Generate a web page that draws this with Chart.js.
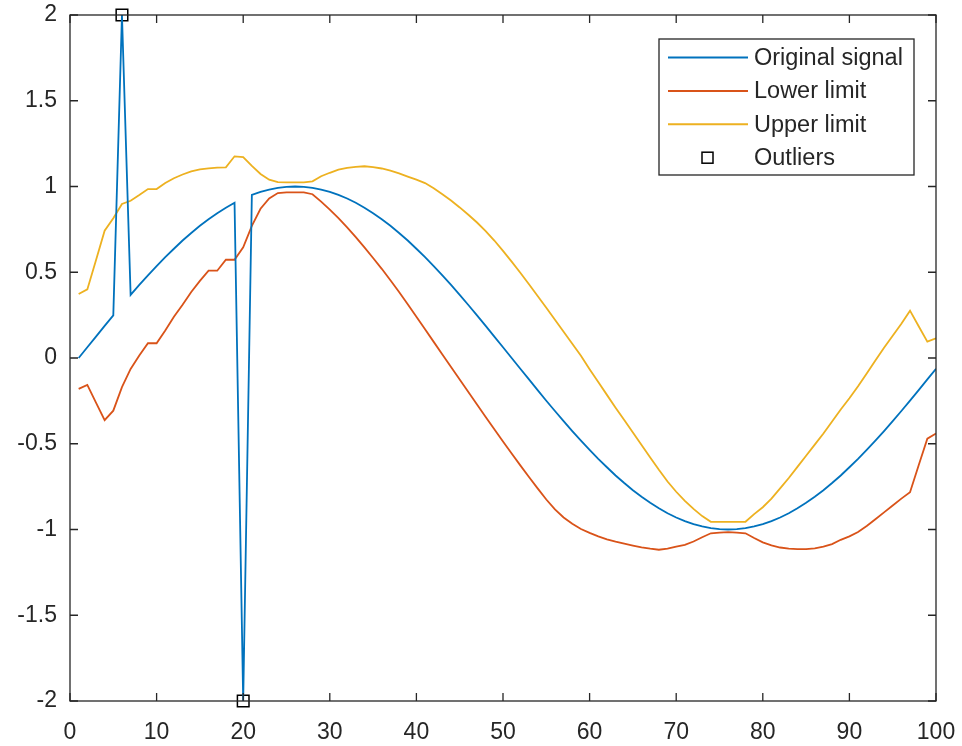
<!DOCTYPE html>
<html>
<head>
<meta charset="utf-8">
<title>Outlier detection</title>
<script src="https://cdn.jsdelivr.net/npm/chart.js@4.4.1/dist/chart.umd.min.js"></script>
<style>
  body { margin: 0; background: #fff; }
  canvas { display: block; }
</style>
</head>
<body>
<canvas id="myChart" width="962" height="746"></canvas>
<script>
//데이터 ================================================
const xValues = [
  1, 2, 3, 4, 5, 6, 7, 8, 9, 10,
  11, 12, 13, 14, 15, 16, 17, 18, 19, 20,
  21, 22, 23, 24, 25, 26, 27, 28, 29, 30,
  31, 32, 33, 34, 35, 36, 37, 38, 39, 40,
  41, 42, 43, 44, 45, 46, 47, 48, 49, 50,
  51, 52, 53, 54, 55, 56, 57, 58, 59, 60,
  61, 62, 63, 64, 65, 66, 67, 68, 69, 70,
  71, 72, 73, 74, 75, 76, 77, 78, 79, 80,
  81, 82, 83, 84, 85, 86, 87, 88, 89, 90,
  91, 92, 93, 94, 95, 96, 97, 98, 99, 100,
];

const signal = [
  0, 0.063, 0.125, 0.187, 0.249, 2, 0.368, 0.426, 0.482, 0.536,
  0.588, 0.637, 0.685, 0.729, 0.771, 0.809, 0.844, 0.876, 0.905, -2,
  0.951, 0.969, 0.982, 0.992, 0.998, 1.0, 0.998, 0.992, 0.982, 0.969,
  0.951, 0.93, 0.905, 0.876, 0.844, 0.809, 0.771, 0.729, 0.685, 0.637,
  0.588, 0.536, 0.482, 0.426, 0.368, 0.309, 0.249, 0.187, 0.125, 0.063,
  0, -0.063, -0.125, -0.187, -0.249, -0.309, -0.368, -0.426, -0.482, -0.536,
  -0.588, -0.637, -0.685, -0.729, -0.771, -0.809, -0.844, -0.876, -0.905, -0.93,
  -0.951, -0.969, -0.982, -0.992, -0.998, -1.0, -0.998, -0.992, -0.982, -0.969,
  -0.951, -0.93, -0.905, -0.876, -0.844, -0.809, -0.771, -0.729, -0.685, -0.637,
  -0.588, -0.536, -0.482, -0.426, -0.368, -0.309, -0.249, -0.187, -0.125, -0.063,
];

const lowerLimit = [
  -0.18, -0.157, -0.26, -0.362, -0.307, -0.17, -0.064, 0.015, 0.086, 0.086,
  0.16, 0.24, 0.31, 0.385, 0.45, 0.509, 0.509, 0.573, 0.573, 0.645,
  0.77, 0.87, 0.93, 0.962, 0.966, 0.966, 0.966, 0.955, 0.912, 0.865,
  0.815, 0.762, 0.705, 0.645, 0.583, 0.52, 0.453, 0.385, 0.313, 0.24,
  0.167, 0.094, 0.021, -0.052, -0.125, -0.198, -0.271, -0.344, -0.416, -0.487,
  -0.557, -0.626, -0.694, -0.76, -0.825, -0.883, -0.93, -0.967, -0.997, -1.02,
  -1.04, -1.057, -1.071, -1.083, -1.094, -1.104, -1.112, -1.118, -1.112, -1.1,
  -1.09, -1.07, -1.045, -1.022, -1.018, -1.015, -1.018, -1.022, -1.05, -1.075,
  -1.093, -1.105, -1.112, -1.115, -1.115, -1.11, -1.1, -1.085, -1.06, -1.04,
  -1.015, -0.98, -0.94, -0.9, -0.86, -0.82, -0.783, -0.625, -0.47, -0.44,
];

const upperLimit = [
  0.373, 0.4, 0.57, 0.742, 0.815, 0.898, 0.917, 0.95, 0.985, 0.985,
  1.02, 1.048, 1.07, 1.088, 1.1, 1.106, 1.11, 1.112, 1.176, 1.172,
  1.12, 1.073, 1.04, 1.025, 1.024, 1.024, 1.024, 1.03, 1.06, 1.08,
  1.098, 1.108, 1.115, 1.118, 1.113, 1.105, 1.092, 1.077, 1.058, 1.04,
  1.02, 0.99, 0.955, 0.918, 0.878, 0.835, 0.79, 0.74, 0.685, 0.625,
  0.562, 0.497, 0.43, 0.362, 0.293, 0.223, 0.153, 0.083, 0.013, -0.065,
  -0.14, -0.215, -0.29, -0.362, -0.435, -0.507, -0.58, -0.652, -0.72, -0.78,
  -0.833, -0.88, -0.922, -0.955, -0.955, -0.955, -0.955, -0.955, -0.91, -0.87,
  -0.82, -0.76, -0.7, -0.635, -0.57, -0.505, -0.44, -0.37, -0.3, -0.235,
  -0.165, -0.09, -0.015, 0.06, 0.13, 0.2, 0.276, 0.185, 0.095, 0.115,
];

const outlierX = [6, 20];
const outlierY = [2, -2];

const xTickValues = [0, 10, 20, 30, 40, 50, 60, 70, 80, 90, 100];
const yTickValues = [-2, -1.5, -1, -0.5, 0, 0.5, 1, 1.5, 2];

const seriesNames = ["Original signal", "Lower limit", "Upper limit", "Outliers"];

//스타일 ====================================
const AXIS_COLOR = "#262626";
const FONT = "'Liberation Sans', Arial, sans-serif";

function toPoints(xs, ys) {
  return xs.map((x, i) => ({ x: x, y: ys[i] }));
}

//박스 + 안쪽 눈금 (MATLAB 스타일)
const axisBox = {
  id: "axisBox",
  afterDraw(chart) {
    const { ctx, chartArea: a, scales } = chart;
    const tl = 8;
    ctx.save();
    ctx.strokeStyle = AXIS_COLOR;
    ctx.lineWidth = 1.3;
    ctx.strokeRect(a.left, a.top, a.right - a.left, a.bottom - a.top);
    ctx.beginPath();
    xTickValues.forEach((v) => {
      const px = scales.x.getPixelForValue(v);
      ctx.moveTo(px, a.bottom);
      ctx.lineTo(px, a.bottom - tl);
      ctx.moveTo(px, a.top);
      ctx.lineTo(px, a.top + tl);
    });
    yTickValues.forEach((v) => {
      const py = scales.y.getPixelForValue(v);
      ctx.moveTo(a.left, py);
      ctx.lineTo(a.left + tl, py);
      ctx.moveTo(a.right, py);
      ctx.lineTo(a.right - tl, py);
    });
    ctx.stroke();
    ctx.restore();
  },
};

//범례 (오른쪽 위, 테두리 있음)
const boxLegend = {
  id: "boxLegend",
  afterDraw(chart) {
    const { ctx, chartArea: a } = chart;
    const w = 255;
    const h = 136;
    const left = a.right - 22 - w;
    const top = a.top + 24;
    const rowH = 33.4;
    ctx.save();
    ctx.fillStyle = "#fff";
    ctx.fillRect(left, top, w, h);
    ctx.strokeStyle = AXIS_COLOR;
    ctx.lineWidth = 1.3;
    ctx.strokeRect(left, top, w, h);
    ctx.font = "23.5px " + FONT;
    ctx.textBaseline = "middle";
    chart.data.datasets.forEach((ds, i) => {
      const y = top + 18.5 + i * rowH;
      if (ds.showLine === false) {
        ctx.strokeStyle = "#000";
        ctx.lineWidth = 1.5;
        ctx.strokeRect(left + 43, y - 5.5, 11, 11);
      } else {
        ctx.strokeStyle = ds.borderColor;
        ctx.lineWidth = 2;
        ctx.beginPath();
        ctx.moveTo(left + 9, y);
        ctx.lineTo(left + 89, y);
        ctx.stroke();
      }
      ctx.fillStyle = AXIS_COLOR;
      ctx.fillText(ds.label, left + 95, y + 1);
    });
    ctx.restore();
  },
};

//차트 생성 ====================================
const chartArea = document.getElementById("myChart").getContext("2d");
const mychart = new Chart(chartArea, {
  type: "line",
  data: {
    datasets: [
      {
        label: seriesNames[0],
        data: toPoints(xValues, signal),
        borderColor: "#0072BD",
        borderWidth: 1.8,
        pointRadius: 0,
        tension: 0,
      },
      {
        label: seriesNames[1],
        data: toPoints(xValues, lowerLimit),
        borderColor: "#D95319",
        borderWidth: 1.8,
        pointRadius: 0,
        tension: 0,
      },
      {
        label: seriesNames[2],
        data: toPoints(xValues, upperLimit),
        borderColor: "#EDB120",
        borderWidth: 1.8,
        pointRadius: 0,
        tension: 0,
      },
      {
        label: seriesNames[3],
        data: toPoints(outlierX, outlierY),
        showLine: false,
        pointStyle: "rect",
        pointRadius: 8.2,
        pointBorderWidth: 1.5,
        pointBorderColor: "#000",
        pointBackgroundColor: "rgba(0,0,0,0)",
        clip: false,
      },
    ],
  },
  options: {
    responsive: false,
    animation: false,
    layout: {
      padding: { top: 15, right: 26, left: 0, bottom: 0 },
    },
    plugins: {
      legend: { display: false },
      tooltip: { enabled: false },
    },
    scales: {
      x: {
        type: "linear",
        min: 0,
        max: 100,
        afterBuildTicks: (scale) => {
          scale.ticks = xTickValues.map((v) => ({ value: v }));
        },
        afterFit: (scale) => {
          scale.height = 45;
          scale.paddingLeft = 0;
          scale.paddingRight = 0;
        },
        grid: { display: false, drawTicks: false },
        border: { display: false },
        ticks: {
          color: AXIS_COLOR,
          font: { family: FONT, size: 23 },
          padding: 18,
          maxRotation: 0,
          callback: (v) => String(v),
        },
      },
      y: {
        type: "linear",
        min: -2,
        max: 2,
        afterBuildTicks: (scale) => {
          scale.ticks = yTickValues.map((v) => ({ value: v }));
        },
        afterFit: (scale) => {
          scale.width = 70;
          scale.paddingTop = 0;
          scale.paddingBottom = 0;
        },
        grid: { display: false, drawTicks: false },
        border: { display: false },
        ticks: {
          color: AXIS_COLOR,
          font: { family: FONT, size: 23 },
          padding: 13,
          callback: (v) => String(v),
        },
      },
    },
  },
  plugins: [axisBox, boxLegend],
});
</script>
</body>
</html>
